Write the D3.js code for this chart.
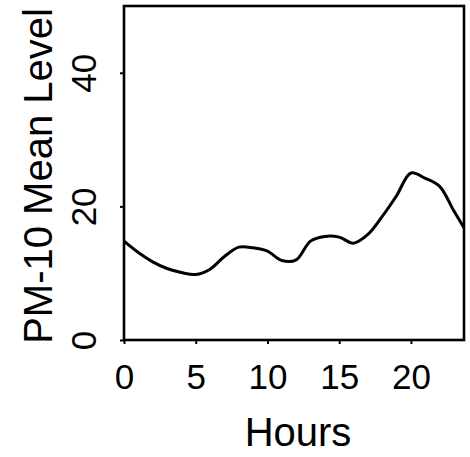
<!DOCTYPE html>
<html>
<head>
<meta charset="utf-8">
<script src="https://cdn.jsdelivr.net/npm/d3@7"></script>
<style>
  html, body { margin: 0; padding: 0; background: #fff; }
  svg { display: block; }
  text { font-family: "Liberation Sans", Arial, Helvetica, sans-serif; fill: #000; }
</style>
</head>
<body>
<svg id="chart" width="470" height="457"></svg>
<script>
// Data
const hours = [0, 1, 2, 3, 4, 5, 6, 7, 8, 9, 10, 11, 12, 13, 14, 15, 16, 17, 18, 19, 20, 21, 22, 23, 23.7];
const pm10  = [14.8, 13.1, 11.7, 10.7, 10.1, 9.8, 10.6, 12.5, 13.9, 13.8, 13.3, 11.9, 12.0, 14.8, 15.5, 15.4, 14.5, 15.8, 18.5, 21.6, 25.0, 24.2, 23.0, 19.3, 16.8];
const xTicks = [0, 5, 10, 15, 20];
const yTicks = [0, 20, 40];
const xTitle = "Hours";
const yTitle = "PM-10 Mean Level";

const svg = d3.select("#chart");
const pLeft = 124, pRight = 464, pTop = 6, pBottom = 340;

const x = d3.scaleLinear().domain([0, 23.7]).range([pLeft, pRight]);
const y = d3.scaleLinear().domain([0, 50]).range([pBottom, pTop]);

// Frame
svg.append("rect")
  .attr("x", pLeft).attr("y", pTop)
  .attr("width", pRight - pLeft).attr("height", pBottom - pTop)
  .attr("fill", "none").attr("stroke", "#000").attr("stroke-width", 2.6);

// X axis
const xAxis = d3.axisBottom(x).tickValues(xTicks).tickSize(4).tickPadding(0).tickFormat(d3.format("d"));
const gx = svg.append("g").attr("transform", `translate(0,${pBottom})`).call(xAxis);
gx.select(".domain").remove();
gx.selectAll(".tick line").attr("stroke", "#000").attr("stroke-width", 2);
gx.selectAll(".tick text")
  .attr("y", 49).attr("dy", null)
  .style("font-size", "35px");

// Y axis
const yAxis = d3.axisLeft(y).tickValues(yTicks).tickSize(4).tickPadding(0).tickFormat(d3.format("d"));
const gy = svg.append("g").attr("transform", `translate(${pLeft},0)`).call(yAxis);
gy.select(".domain").remove();
gy.selectAll(".tick line").attr("stroke", "#000").attr("stroke-width", 2);
gy.selectAll(".tick text")
  .attr("x", null).attr("dy", null)
  .attr("text-anchor", "middle")
  .attr("transform", "translate(-28,0) rotate(-90)")
  .style("font-size", "35px");

// Curve
const line = d3.line()
  .x((d, i) => x(hours[i]))
  .y(d => y(d))
  .curve(d3.curveCatmullRom.alpha(0.5));
svg.append("path")
  .datum(pm10)
  .attr("d", line)
  .attr("fill", "none")
  .attr("stroke", "#000")
  .attr("stroke-width", 3)
  .attr("stroke-linejoin", "round");

// Axis titles
svg.append("text")
  .attr("x", (pLeft + pRight) / 2 + 4)
  .attr("y", 446)
  .attr("text-anchor", "middle")
  .style("font-size", "40px")
  .text(xTitle);

svg.append("text")
  .attr("transform", `translate(52,${(pTop + pBottom) / 2 + 3}) rotate(-90)`)
  .attr("text-anchor", "middle")
  .style("font-size", "40px")
  .text(yTitle);
</script>
</body>
</html>
